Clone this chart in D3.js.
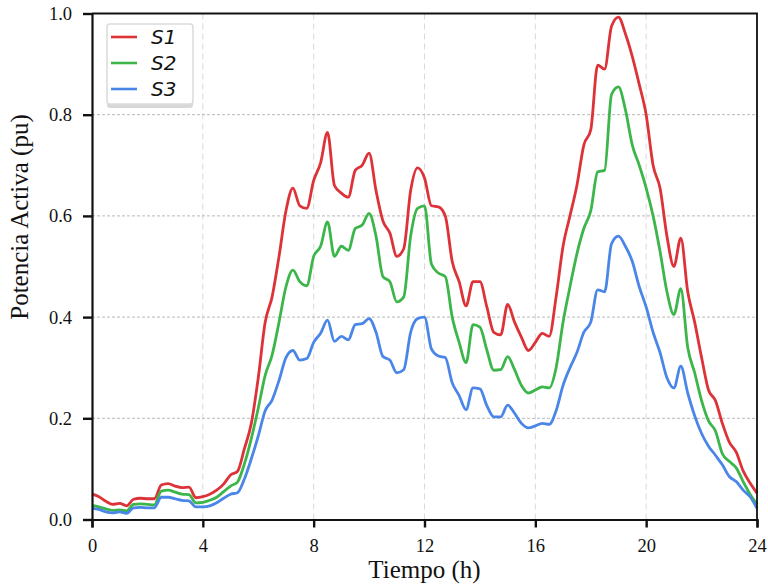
<!DOCTYPE html>
<html>
<head>
<meta charset="utf-8">
<script src="https://cdn.jsdelivr.net/npm/d3@7"></script>
<style>
  body { margin: 0; background: #fff; }
  svg { display: block; }
</style>
</head>
<body>
<script>
// hours of the day (15 min steps)
var hours = [0,0.25,0.5,0.75,1,1.25,1.5,1.75,2,2.25,2.5,2.75,3,3.25,3.5,3.75,
  4,4.25,4.5,4.75,5,5.25,5.5,5.75,6,6.25,6.5,6.75,7,7.25,7.5,7.75,
  8,8.25,8.5,8.75,9,9.25,9.5,9.75,10,10.25,10.5,10.75,11,11.25,11.5,11.75,
  12,12.25,12.5,12.75,13,13.25,13.5,13.75,14,14.25,14.5,14.75,15,15.25,15.5,15.75,
  16,16.25,16.5,16.75,17,17.25,17.5,17.75,18,18.25,18.5,18.75,19,19.25,19.5,19.75,
  20,20.25,20.5,20.75,21,21.25,21.5,21.75,22,22.25,22.5,22.75,23,23.25,23.5,23.75,24];

var s1 = [0.050,0.045,0.036,0.030,0.032,0.027,0.040,0.042,0.041,0.041,0.068,0.071,0.066,0.063,0.064,0.043,
  0.045,0.050,0.058,0.070,0.088,0.095,0.140,0.190,0.280,0.390,0.440,0.520,0.610,0.655,0.620,0.615,
  0.670,0.705,0.765,0.660,0.645,0.637,0.690,0.700,0.724,0.650,0.590,0.566,0.520,0.535,0.650,0.695,
  0.675,0.620,0.618,0.600,0.510,0.470,0.422,0.470,0.470,0.420,0.370,0.365,0.425,0.390,0.360,0.334,
  0.350,0.368,0.362,0.440,0.540,0.600,0.660,0.740,0.770,0.898,0.890,0.975,0.993,0.960,0.915,0.860,
  0.800,0.700,0.655,0.560,0.500,0.556,0.450,0.390,0.320,0.256,0.235,0.190,0.153,0.133,0.096,0.072,0.052];

var s2 = [0.028,0.025,0.021,0.018,0.019,0.017,0.030,0.031,0.030,0.029,0.056,0.058,0.054,0.050,0.049,0.033,
  0.034,0.038,0.044,0.055,0.066,0.074,0.110,0.160,0.220,0.285,0.325,0.390,0.460,0.493,0.470,0.462,
  0.520,0.540,0.588,0.520,0.540,0.532,0.575,0.582,0.605,0.560,0.480,0.470,0.430,0.440,0.560,0.615,
  0.620,0.505,0.487,0.480,0.400,0.350,0.310,0.385,0.380,0.335,0.295,0.296,0.322,0.296,0.265,0.250,
  0.256,0.262,0.260,0.300,0.390,0.460,0.525,0.575,0.610,0.687,0.690,0.840,0.855,0.810,0.740,0.700,
  0.655,0.600,0.530,0.450,0.405,0.456,0.340,0.290,0.235,0.195,0.175,0.130,0.115,0.102,0.075,0.050,0.030];

var s3 = [0.022,0.020,0.015,0.013,0.015,0.012,0.023,0.024,0.023,0.023,0.044,0.044,0.041,0.038,0.037,0.025,
  0.025,0.027,0.033,0.042,0.050,0.053,0.080,0.120,0.165,0.215,0.236,0.275,0.320,0.334,0.315,0.318,
  0.350,0.368,0.394,0.352,0.362,0.355,0.385,0.387,0.397,0.370,0.322,0.315,0.290,0.296,0.370,0.397,
  0.400,0.337,0.323,0.320,0.270,0.245,0.217,0.260,0.258,0.225,0.203,0.203,0.226,0.210,0.190,0.181,
  0.185,0.190,0.188,0.215,0.265,0.300,0.330,0.370,0.390,0.454,0.450,0.545,0.560,0.540,0.510,0.460,
  0.420,0.370,0.330,0.280,0.260,0.303,0.250,0.205,0.170,0.145,0.127,0.108,0.085,0.075,0.058,0.045,0.022];

var seriesNames = ["S1", "S2", "S3"];
var seriesColors = ["#dc3238", "#3cb64b", "#4a86e8"];
var xTicks = [0, 4, 8, 12, 16, 20, 24];
var yTicks = [0, 0.2, 0.4, 0.6, 0.8, 1.0];

var w = 768, h = 585;
// plot box (window.top is taken, so use other names)
var pL = 92, pT = 13.5, pR = 757, pB = 519.5;

var svg = d3.select("body")
  .append("svg")
  .attr("width", w)
  .attr("height", h);

var x = d3.scaleLinear().domain([0, 24]).range([pL, pR]);
var y = d3.scaleLinear().domain([0, 1]).range([pB, pT]);

// grid
svg.append("g").selectAll("line").data(xTicks.slice(1, -1)).enter().append("line")
  .attr("x1", function(d) { return x(d); })
  .attr("x2", function(d) { return x(d); })
  .attr("y1", pT).attr("y2", pB)
  .attr("stroke", "#d9d9d9")
  .attr("stroke-width", 1)
  .attr("stroke-dasharray", "6,4");

svg.append("g").selectAll("line").data(yTicks.slice(1, -1)).enter().append("line")
  .attr("x1", pL).attr("x2", pR)
  .attr("y1", function(d) { return y(d); })
  .attr("y2", function(d) { return y(d); })
  .attr("stroke", "#b8b8b8")
  .attr("stroke-width", 1)
  .attr("stroke-dasharray", "3,2");

// lines
var allSeries = [s1, s2, s3];
var line = d3.line()
  .x(function(d, i) { return x(hours[i]); })
  .y(function(d) { return y(d); })
  .curve(d3.curveMonotoneX);

svg.append("g").selectAll("path").data(allSeries).enter().append("path")
  .attr("d", line)
  .attr("fill", "none")
  .attr("stroke", function(d, i) { return seriesColors[i]; })
  .attr("stroke-width", 2.8)
  .attr("stroke-linejoin", "round");

// frame (top + right)
svg.append("path")
  .attr("d", "M" + pL + "," + pT + "H" + pR + "V" + pB)
  .attr("fill", "none")
  .attr("stroke", "#111")
  .attr("stroke-width", 1.8);

// axes
var xAxis = svg.append("g")
  .attr("transform", "translate(0," + pB + ")")
  .call(d3.axisBottom(x).tickValues(xTicks).tickFormat(d3.format("d")).tickSize(8).tickPadding(11));

var yAxis = svg.append("g")
  .attr("transform", "translate(" + pL + ",0)")
  .call(d3.axisLeft(y).tickValues(yTicks).tickFormat(d3.format(".1f")).tickSize(9).tickPadding(11));

[xAxis, yAxis].forEach(function(a) {
  a.select(".domain").attr("stroke", "#111").attr("stroke-width", 2.2);
  a.selectAll(".tick line").attr("stroke", "#111").attr("stroke-width", 2.4);
  a.selectAll("text")
    .attr("font-family", "'Liberation Serif', 'Times New Roman', serif")
    .attr("font-size", 18.5)
    .attr("fill", "#111");
});

// axis titles
svg.append("text")
  .attr("x", (pL + pR) / 2)
  .attr("y", 578)
  .attr("text-anchor", "middle")
  .attr("font-family", "'Liberation Serif', 'Times New Roman', serif")
  .attr("font-size", 25)
  .attr("fill", "#111")
  .text("Tiempo (h)");

svg.append("text")
  .attr("transform", "translate(28,217) rotate(-90)")
  .attr("text-anchor", "middle")
  .attr("font-family", "'Liberation Serif', 'Times New Roman', serif")
  .attr("font-size", 25)
  .attr("fill", "#111")
  .text("Potencia Activa (pu)");

// legend
var legend = svg.append("g");
legend.append("rect")
  .attr("x", 107).attr("y", 26)
  .attr("width", 86).attr("height", 82)
  .attr("rx", 3)
  .attr("fill", "#d8d8d8");
legend.append("rect")
  .attr("x", 107).attr("y", 24)
  .attr("width", 86).attr("height", 80)
  .attr("rx", 3)
  .attr("fill", "#fff")
  .attr("stroke", "#dcdcdc")
  .attr("stroke-width", 1.6);

var items = legend.selectAll(".item").data(seriesNames).enter().append("g")
  .attr("transform", function(d, i) { return "translate(0," + (37 + i * 26) + ")"; });

items.append("line")
  .attr("x1", 111).attr("x2", 137)
  .attr("stroke", function(d, i) { return seriesColors[i]; })
  .attr("stroke-width", 2.6);

items.append("text")
  .attr("x", 151)
  .attr("y", 7)
  .attr("font-family", "'DejaVu Sans', sans-serif")
  .attr("font-style", "italic")
  .attr("font-size", 20)
  .attr("fill", "#111")
  .text(function(d) { return d; });
</script>
</body>
</html>
